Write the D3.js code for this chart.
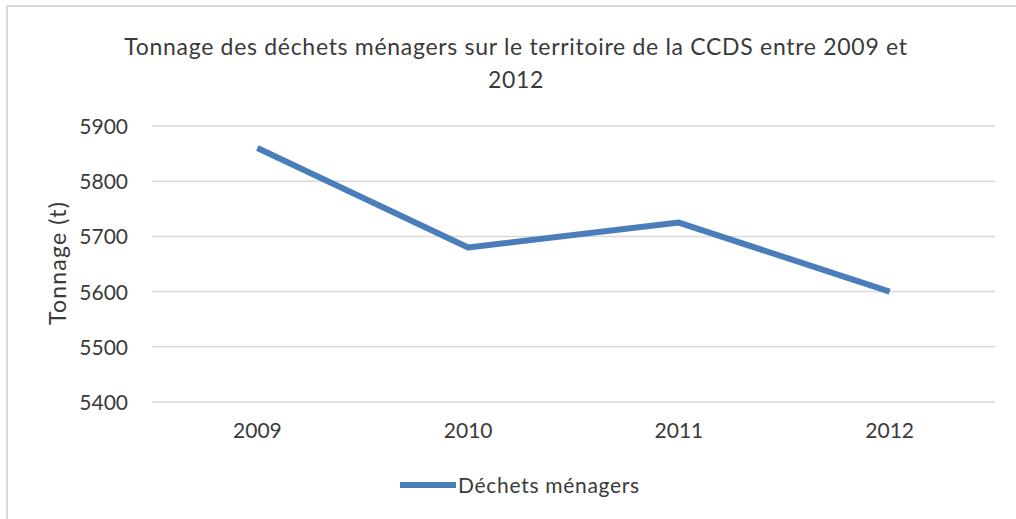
<!DOCTYPE html>
<html>
<head>
<meta charset="utf-8">
<script src="https://cdn.jsdelivr.net/npm/d3@7"></script>
<style>
  html, body { margin: 0; padding: 0; background: #fff; }
  svg { display: block; }
  text { font-family: Lato, "Open Sans", sans-serif; fill: #3a3a3a; }
</style>
</head>
<body>
<svg id="chart" width="1016" height="519"></svg>
<script>
// Household waste tonnage, CCDS territory
const years = ["2009", "2010", "2011", "2012"];
const tonnage = [5860, 5680, 5725, 5600];
const yTicks = [5400, 5500, 5600, 5700, 5800, 5900];
const titleLines = ["Tonnage des déchets ménagers sur le territoire de la CCDS entre 2009 et", "2012"];
const seriesName = "Déchets ménagers";
const yTitle = "Tonnage (t)";

const svg = d3.select("#chart");
const W = 1016, H = 519;
const plot = { left: 152, right: 995, top: 126, bottom: 402 };
const lineColor = "#4a7ebb";

// chart frame
svg.append("rect")
  .attr("x", 7).attr("y", 6)
  .attr("width", W + 20).attr("height", H + 20)
  .attr("fill", "#fff")
  .attr("stroke", "#d9d9d9").attr("stroke-width", 2);

const x = d3.scaleBand().domain(years).range([plot.left, plot.right]).padding(0);
const y = d3.scaleLinear().domain([5400, 5900]).range([plot.bottom, plot.top]);

// horizontal gridlines
svg.append("g")
  .selectAll("line")
  .data(yTicks)
  .join("line")
  .attr("x1", plot.left).attr("x2", plot.right)
  .attr("y1", d => y(d)).attr("y2", d => y(d))
  .attr("stroke", "#d9d9d9").attr("stroke-width", 1.5);

// y axis labels
const yAxis = d3.axisLeft(y).tickValues(yTicks).tickSize(0).tickPadding(0).tickFormat(d3.format("d"));
const gy = svg.append("g").attr("transform", `translate(${plot.left - 24},0)`).call(yAxis);
gy.select(".domain").remove();
gy.selectAll("text")
  .attr("font-family", "Lato, sans-serif")
  .attr("font-size", 21).attr("fill", "#3a3a3a")
  .attr("dy", "0.36em");

// x axis labels
const xAxis = d3.axisBottom(x).tickSize(0).tickPadding(0);
const gx = svg.append("g").attr("transform", `translate(0,${plot.bottom + 21})`).call(xAxis);
gx.select(".domain").remove();
gx.selectAll("text")
  .attr("font-family", "Lato, sans-serif")
  .attr("font-size", 21).attr("fill", "#3a3a3a")
  .attr("dy", "0.71em");

// series line
const line = d3.line()
  .x((d, i) => x(years[i]) + x.bandwidth() / 2)
  .y(d => y(d));
svg.append("path")
  .datum(tonnage)
  .attr("d", line)
  .attr("fill", "none")
  .attr("stroke", lineColor)
  .attr("stroke-width", 6)
  .attr("stroke-linejoin", "round");

// title
const title = svg.append("text")
  .attr("text-anchor", "middle")
  .attr("font-size", 23)
  .attr("letter-spacing", 0.7);
titleLines.forEach((t, i) => {
  title.append("tspan").attr("x", 516).attr("y", 55 + i * 33).text(t);
});

// y axis title
svg.append("text")
  .attr("transform", `translate(66,263) rotate(-90)`)
  .attr("text-anchor", "middle")
  .attr("font-size", 23)
  .attr("letter-spacing", 1.2)
  .text(yTitle);

// legend
svg.append("line")
  .attr("x1", 400).attr("x2", 456)
  .attr("y1", 485).attr("y2", 485)
  .attr("stroke", lineColor).attr("stroke-width", 6);
svg.append("text")
  .attr("x", 458).attr("y", 485)
  .attr("dy", "0.36em")
  .attr("font-size", 21)
  .attr("letter-spacing", 0.7)
  .text(seriesName);
</script>
</body>
</html>
